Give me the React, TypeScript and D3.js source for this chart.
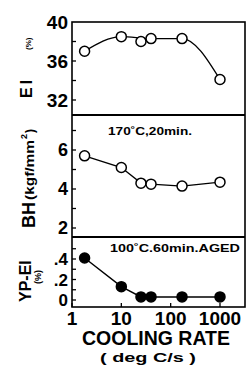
import * as d3 from "d3"

// cooling rate (deg C/s) and the three measured properties
const coolingRate = [1.8, 10, 25, 40, 170, 1000]
const elongation = [37.0, 38.5, 38.0, 38.3, 38.3, 34.1]
const bakeHardening = [5.7, 5.1, 4.3, 4.25, 4.15, 4.35]
const ypEl = [0.41, 0.13, 0.03, 0.03, 0.03, 0.03]

const xTicks = [1, 10, 100, 1000]
const elTicks = [32, 34, 36, 38, 40]
const elLabels = [32, 36, 40]
const bhTicks = [2, 3, 4, 5, 6, 7]
const bhLabels = [2, 4, 6]
const ypTicks = [0, 0.1, 0.2, 0.3, 0.4, 0.5]
const ypLabels = [0, 0.2, 0.4]

const W = 249, H = 368
const L = 72, R = 245
const P1 = [22, 115], P2 = [115, 237], P3 = [237, 307]
const FONT = "'Liberation Sans', Arial, sans-serif"

const x = d3.scaleLog().domain([1, 1000]).range([L, 220])
const y1 = d3.scaleLinear().domain([32, 40]).range([100, 22])
const y2 = d3.scaleLinear().domain([2, 6]).range([228, 150])
const y3 = d3.scaleLinear().domain([0, 0.4]).range([300, 259])

type Pt = [number, number]
const pts = (ys: number[]): Pt[] => ys.map((v, i) => [coolingRate[i], v])

function Panel({ top, bottom, y, ticks, labels, fmt, size, data, fit, filled, curve }: {
  top: number; bottom: number; y: d3.ScaleLinear<number, number>
  ticks: number[]; labels: number[]; fmt: (v: number) => string; size: number
  data: Pt[]; fit: Pt[]; filled: boolean; curve: d3.CurveFactory
}) {
  const line = d3.line<Pt>().x(d => x(d[0])).y(d => y(d[1])).curve(curve)
  return (
    <g>
      {ticks.filter(t => y(t) > top + 1 && y(t) < bottom - 1).map(t => (
        <line key={t} x1={L} x2={L + 4} y1={y(t)} y2={y(t)} stroke="#000" strokeWidth={1.3} />
      ))}
      {labels.map(t => (
        <text key={t} x={L - 4} y={y(t)} dy="0.36em" textAnchor="end"
          fontSize={size} fontWeight="bold" fontFamily={FONT}>{fmt(t)}</text>
      ))}
      <path d={line(fit) || ""} fill="none" stroke="#000" strokeWidth={1.4} />
      {data.map((d, i) => (
        <circle key={i} cx={x(d[0])} cy={y(d[1])} r={5}
          fill={filled ? "#000" : "#fff"} stroke="#000" strokeWidth={1.5} />
      ))}
    </g>
  )
}

export default function App() {
  const elPts = pts(elongation)
  // the hand-drawn fit runs above the 25 deg C/s point
  const elFit = elPts.filter((_, i) => i !== 2)
  return (
    <svg width={W} height={H} style={{ position: "absolute", left: 0, top: 0, background: "#fff" }}>
      <Panel top={P1[0]} bottom={P1[1]} y={y1} ticks={elTicks} labels={elLabels} fmt={String} size={19}
        data={elPts} fit={elFit} filled={false} curve={d3.curveMonotoneX} />
      <Panel top={P2[0]} bottom={P2[1]} y={y2} ticks={bhTicks} labels={bhLabels} fmt={String} size={18}
        data={pts(bakeHardening)} fit={pts(bakeHardening)} filled={false} curve={d3.curveLinear} />
      <Panel top={P3[0]} bottom={P3[1]} y={y3} ticks={ypTicks} labels={ypLabels}
        fmt={v => (v === 0 ? "0" : d3.format(".1f")(v).replace(/^0/, ""))} size={17}
        data={pts(ypEl)} fit={pts(ypEl)} filled={true} curve={d3.curveLinear} />

      {/* frames */}
      <rect x={L} y={P1[0]} width={R - L} height={P3[1] - P1[0]} fill="none" stroke="#000" strokeWidth={1.6} />
      <line x1={L} x2={R} y1={P2[0]} y2={P2[0]} stroke="#000" strokeWidth={1.8} />
      <line x1={L} x2={R} y1={P3[0]} y2={P3[0]} stroke="#000" strokeWidth={1.8} />

      {/* x axis */}
      {xTicks.map(t => (
        <g key={t}>
          <line x1={x(t)} x2={x(t)} y1={P3[1]} y2={P3[1] - 4} stroke="#000" strokeWidth={1.3} />
          <text x={x(t)} y={325} textAnchor="middle" fontSize={19} fontWeight="bold" fontFamily={FONT}>{t}</text>
        </g>
      ))}
      <text x={156} y={345} textAnchor="middle" fontSize={20} fontWeight="bold" fontFamily={FONT}
        textLength={148} lengthAdjust="spacingAndGlyphs">COOLING RATE</text>
      <text x={148} y={362} textAnchor="middle" fontSize={12} fontWeight="bold" fontFamily={FONT}
        textLength={96} lengthAdjust="spacingAndGlyphs">( deg C/s )</text>

      {/* panel notes */}
      <text x={150} y={135} textAnchor="middle" fontSize={11} fontWeight="bold" fontFamily={FONT}
        textLength={84} lengthAdjust="spacingAndGlyphs">170˚C,20min.</text>
      <text x={175} y={252} textAnchor="middle" fontSize={11} fontWeight="bold" fontFamily={FONT}
        textLength={130} lengthAdjust="spacingAndGlyphs">100˚C.60min.AGED</text>

      {/* y titles */}
      <g transform="translate(32,98) rotate(-90)" fontFamily={FONT} fontWeight="bold">
        <text x={0} y={0} fontSize={16} letterSpacing={3}>El</text>
        <text x={48} y={-1} fontSize={8}>(%)</text>
      </g>
      <g transform="translate(35,228) rotate(-90)" fontFamily={FONT} fontWeight="bold">
        <text x={0} y={0} fontSize={18}>BH</text>
        <text x={28} y={-1} fontSize={12} textLength={60} lengthAdjust="spacingAndGlyphs">(kgf/mm</text>
        <text x={89} y={-8} fontSize={9}>2</text>
        <text x={95} y={-1} fontSize={12}>)</text>
      </g>
      <g transform="translate(31,302) rotate(-90)" fontFamily={FONT} fontWeight="bold">
        <text x={0} y={0} fontSize={16}>YP-El</text>
        <text x={18} y={10} fontSize={9}>(%)</text>
      </g>
    </svg>
  )
}
